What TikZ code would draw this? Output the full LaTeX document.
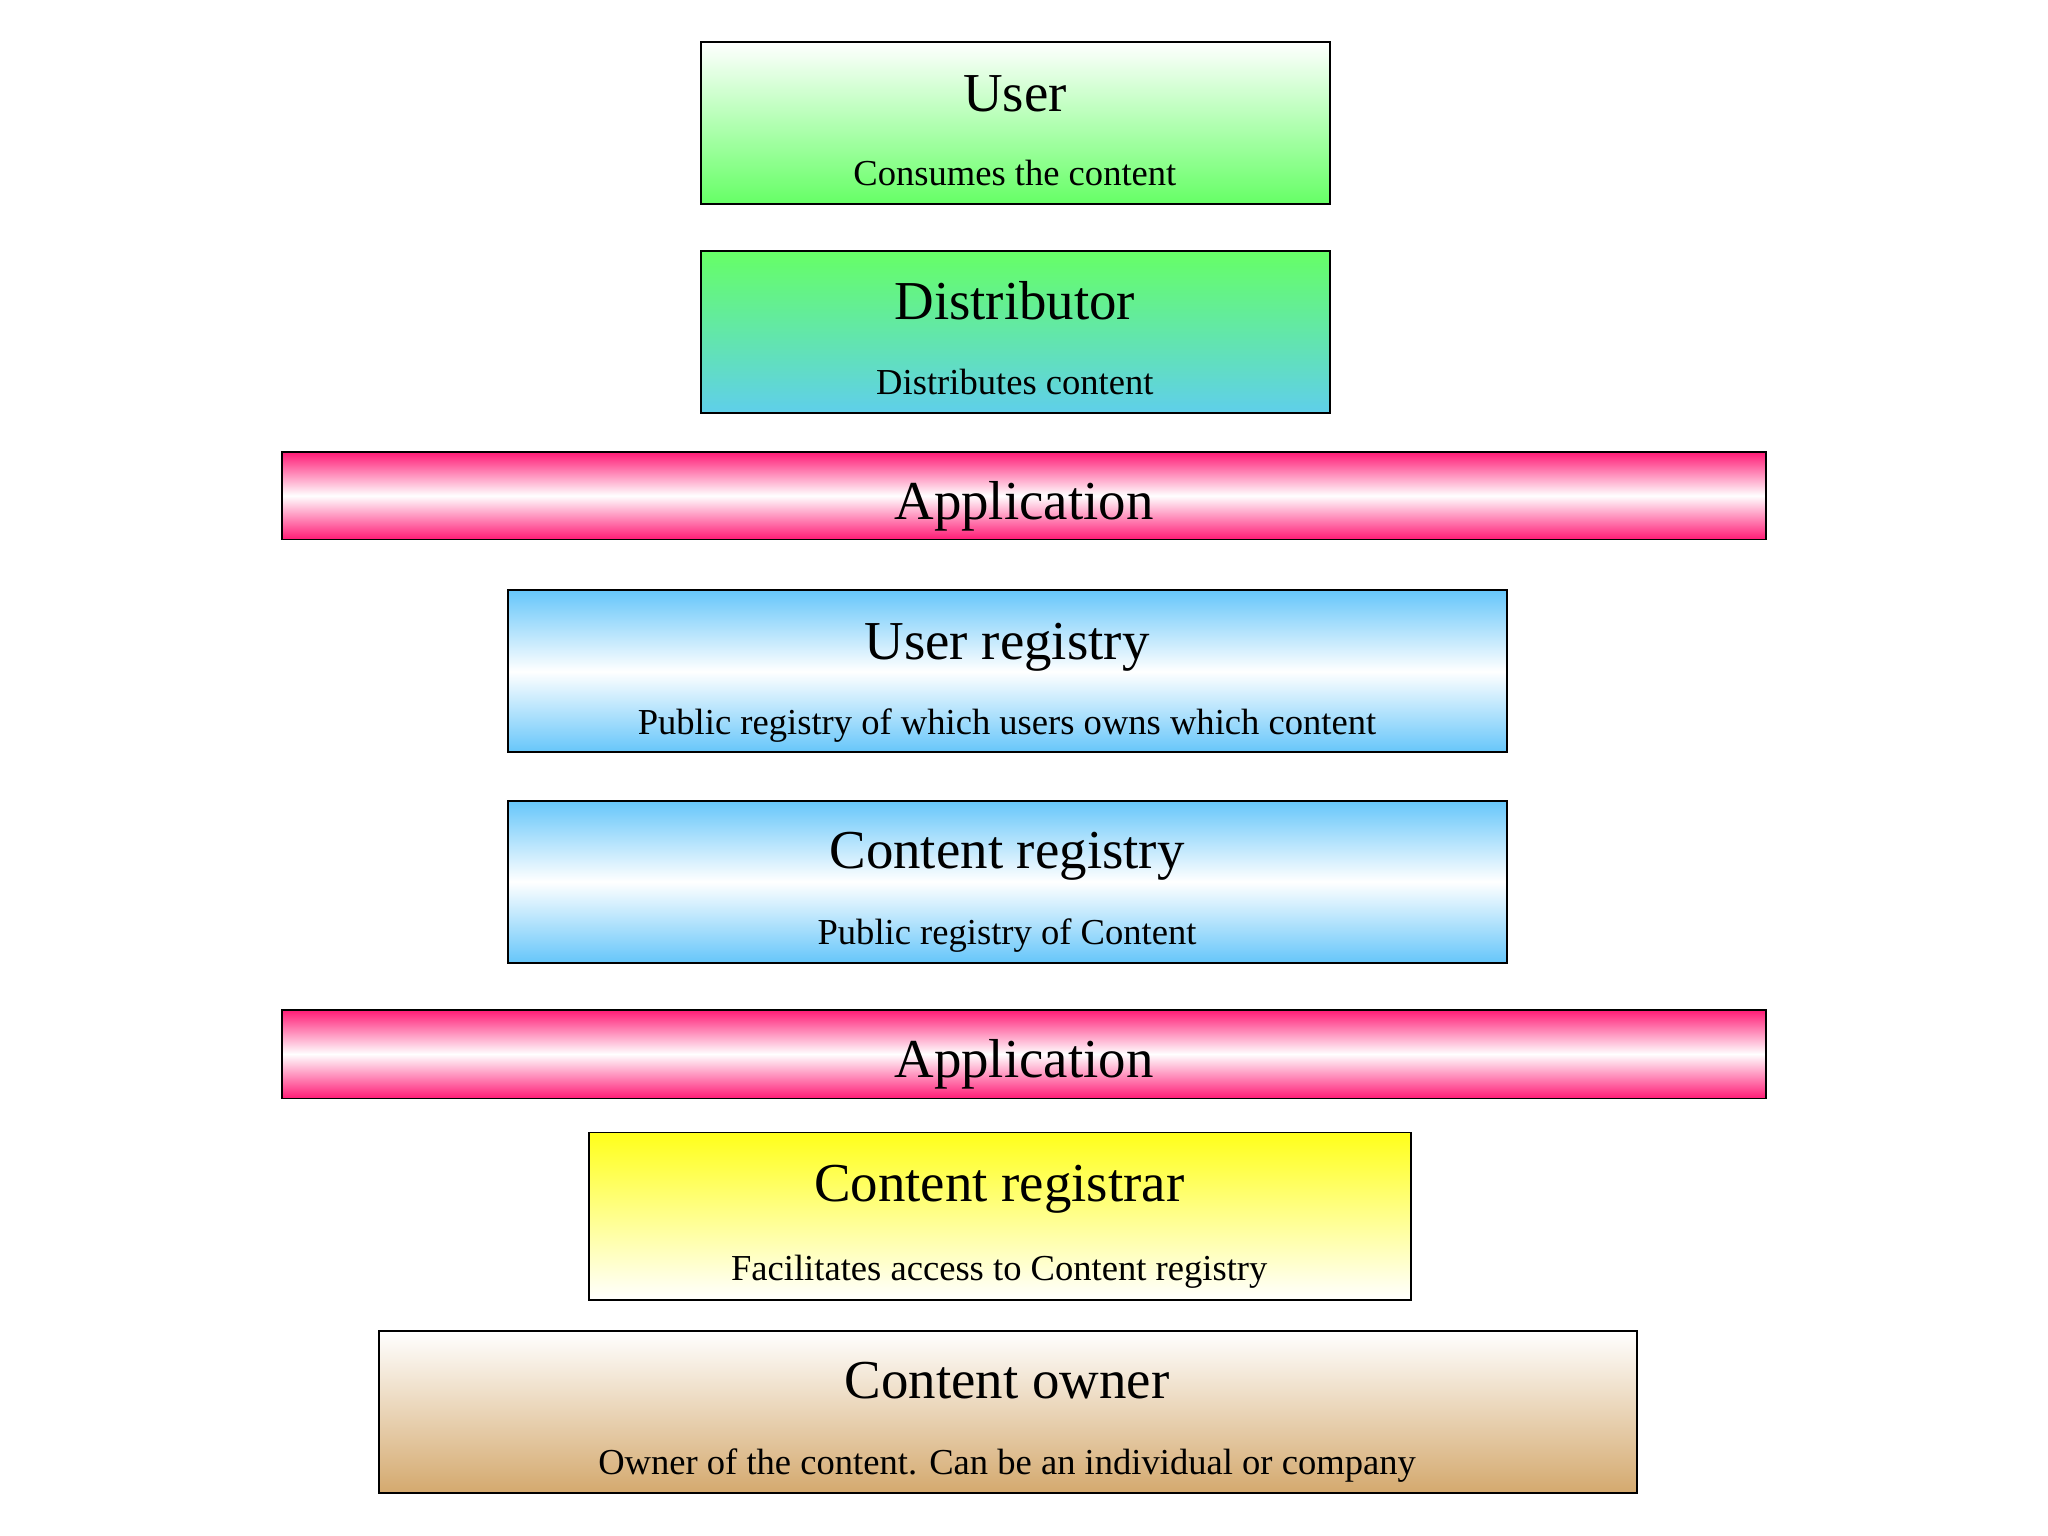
\documentclass[tikz,border=0pt]{standalone}
\usepackage{fontspec}
\setmainfont{Liberation Serif}
\definecolor{grn}{HTML}{66FF66}
\definecolor{blu}{HTML}{5FCFEA}
\definecolor{lblu}{HTML}{66C6FA}
\definecolor{pnk}{HTML}{FF1A75}
\definecolor{yel}{HTML}{FFFF1A}
\definecolor{tan}{HTML}{D4A96E}
\begin{document}
\begin{tikzpicture}[x=0.5pt,y=-0.5pt,
  box/.style={draw=black,line width=0.7pt},
  ttl/.style={font=\fontsize{21}{24}\selectfont,anchor=base},
  sub/.style={font=\fontsize{14}{16}\selectfont,anchor=base}]
\useasboundingbox (0,0) rectangle (1568,1176);
% User
\path[box,top color=white,bottom color=grn] (537,32) rectangle (1018,156);
\node[ttl] (userT) at (777,85) {User};
\node[sub] (userS) at (777,142) {Consumes the content};
% Distributor
\path[box,top color=grn,bottom color=blu] (537,192) rectangle (1018,316);
\node[ttl] (distT) at (777,245) {Distributor};
\node[sub] (distS) at (777,302) {Distributes content};
% Application 1
\path[box,top color=pnk,bottom color=pnk,middle color=white] (216,346) rectangle (1352,413);
\node[ttl] (app1) at (784,398) {Application};
% User registry
\path[box,top color=lblu,bottom color=lblu,middle color=white] (389,452) rectangle (1154,576);
\node[ttl] (urT) at (771,505) {User registry};
\node[sub] (urS) at (771,562) {Public registry of which users owns which content};
% Content registry
\path[box,top color=lblu,bottom color=lblu,middle color=white] (389,613) rectangle (1154,737);
\node[ttl] (crT) at (771,665) {Content registry};
\node[sub] (crS) at (771,723) {Public registry of Content};
% Application 2
\path[box,top color=pnk,bottom color=pnk,middle color=white] (216,773) rectangle (1352,841);
\node[ttl] (app2) at (784,825) {Application};
% Content registrar
\path[box,top color=yel,bottom color=white] (451,867) rectangle (1080,995);
\node[ttl] (crrT) at (765,920) {Content registrar};
\node[sub] (crrS) at (765,980) {Facilitates access to Content registry};
% Content owner
\path[box,top color=white,bottom color=tan] (290,1019) rectangle (1253,1143);
\node[ttl] (coT) at (771,1071) {Content owner};
\node[sub] (coS) at (771,1129) {Owner of the content. Can be an individual or company};
\end{tikzpicture}
\end{document}
